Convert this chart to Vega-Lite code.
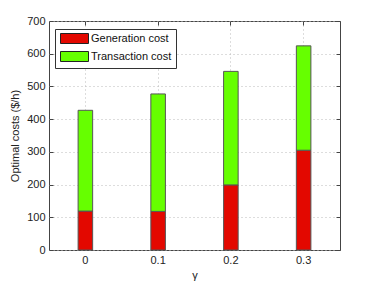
{
  "$schema": "https://vega.github.io/schema/vega-lite/v6.json",
  "autosize": "none",
  "padding": {"left": 49, "top": 21, "right": 34, "bottom": 31},
  "width": 291,
  "height": 229,
  "config": {
    "view": {"stroke": "#444", "strokeWidth": 1},
    "font": "Liberation Sans",
    "axis": {
      "labelFont": "Liberation Sans",
      "titleFont": "Liberation Sans",
      "labelFontSize": 11,
      "titleFontSize": 11,
      "titleFontWeight": "normal",
      "labelColor": "#222",
      "titleColor": "#222",
      "domain": false,
      "tickColor": "#444",
      "tickSize": -4,
      "gridColor": "#bbbbbb",
      "gridDash": [1, 3],
      "gridWidth": 1,
      "gridOpacity": 1
    }
  },
  "data": {
    "values": [
      {"gamma": "0", "type": "Generation cost", "cost": 119},
      {"gamma": "0", "type": "Transaction cost", "cost": 308},
      {"gamma": "0.1", "type": "Generation cost", "cost": 118},
      {"gamma": "0.1", "type": "Transaction cost", "cost": 359},
      {"gamma": "0.2", "type": "Generation cost", "cost": 199},
      {"gamma": "0.2", "type": "Transaction cost", "cost": 347},
      {"gamma": "0.3", "type": "Generation cost", "cost": 305},
      {"gamma": "0.3", "type": "Transaction cost", "cost": 319}
    ]
  },
  "layer": [
    {
      "mark": {"type": "bar", "stroke": "#555", "strokeWidth": 1},
      "encoding": {
        "x": {
          "field": "gamma", "type": "ordinal", "title": "γ",
          "scale": {"paddingInner": 0.8, "paddingOuter": 0.4},
          "axis": {"labelAngle": 0, "bandPosition": 0.5, "labelPadding": 8, "titlePadding": 4, "grid": true}
        },
        "y": {
          "field": "cost", "type": "quantitative", "stack": "zero",
          "title": "Optimal costs ($/h)",
          "scale": {"domain": [0, 700], "nice": false},
          "axis": {"values": [0, 100, 200, 300, 400, 500, 600, 700], "labelPadding": 8, "titlePadding": 6, "grid": true}
        },
        "order": {"field": "type", "sort": "ascending"},
        "color": {
          "field": "type", "type": "nominal",
          "scale": {"domain": ["Generation cost", "Transaction cost"], "range": ["#e30800", "#66ff00"]},
          "legend": {
            "title": null,
            "orient": "none",
            "legendX": 6,
            "legendY": 8,
            "fillColor": "white",
            "strokeColor": "#333",
            "padding": 4,
            "symbolType": "M-2.8,-1H2.8V1H-2.8Z",
            "symbolSize": 100,
            "symbolOffset": 10,
            "symbolStrokeColor": "#222",
            "symbolStrokeWidth": 1,
            "symbolOpacity": 1,
            "labelFont": "Liberation Sans",
            "labelFontSize": 11,
            "labelColor": "#111",
            "labelOffset": 11,
            "rowPadding": 3
          }
        }
      }
    },
    {
      "mark": {"type": "bar", "opacity": 0},
      "encoding": {
        "x": {"field": "gamma", "type": "ordinal", "axis": {"orient": "top", "labels": false, "title": null, "bandPosition": 0.5, "grid": false}},
        "y": {"field": "cost", "type": "quantitative", "stack": "zero", "axis": {"orient": "right", "labels": false, "title": null, "values": [0, 100, 200, 300, 400, 500, 600, 700], "grid": false}}
      }
    }
  ],
  "resolve": {"axis": {"x": "independent", "y": "independent"}}
}
